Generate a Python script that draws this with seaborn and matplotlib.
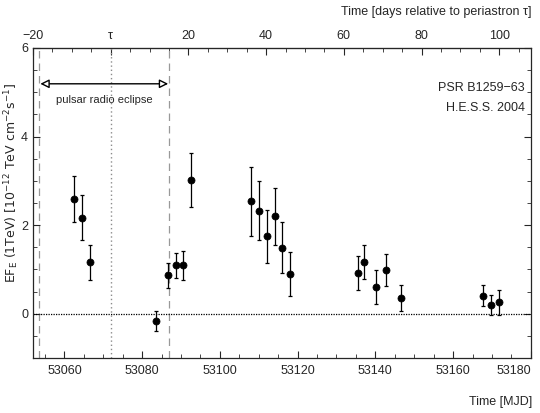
import matplotlib
matplotlib.use("Agg")
import matplotlib.pyplot as plt
from matplotlib.ticker import MultipleLocator, FixedLocator, FixedFormatter
import seaborn as sns
import pandas as pd

mjd = [53062.5, 53064.5, 53066.6, 53083.5, 53086.6, 53088.7, 53090.5, 53092.6,
       53108.1, 53110.1, 53112.1, 53114.1, 53116.1, 53118.1, 53135.6, 53137.2,
       53140.1, 53142.7, 53146.7, 53167.8, 53169.7, 53171.8]
flux = [2.59, 2.17, 1.16, -0.17, 0.87, 1.09, 1.09, 3.02,
        2.54, 2.33, 1.75, 2.20, 1.49, 0.90, 0.92, 1.17,
        0.60, 0.99, 0.36, 0.41, 0.20, 0.26]
flux_err = [0.52, 0.50, 0.39, 0.23, 0.28, 0.29, 0.33, 0.61,
            0.78, 0.66, 0.60, 0.64, 0.57, 0.50, 0.39, 0.39,
            0.38, 0.36, 0.30, 0.24, 0.23, 0.28]
tau = 53071.9
eclipse = [53053.5, 53087.0]
top_ticks = [-20, 0, 20, 40, 60, 80, 100]
top_labels = ["\u221220", "\u03c4", "20", "40", "60", "80", "100"]

df = pd.DataFrame({"mjd": mjd, "flux": flux, "err": flux_err})

sns.set_style("ticks")
fam = ["Liberation Sans", "DejaVu Sans"]
plt.rcParams["font.family"] = fam

fig = plt.figure(figsize=(5.4, 4.13), dpi=100)
ax = fig.add_axes([0.061, 0.133, 0.922, 0.751])

ax.axvline(tau, color="0.55", ls=(0, (1, 2)), lw=1.0, zorder=1)
for e in eclipse:
    ax.axvline(e, color="0.6", ls=(0, (6, 4)), lw=0.9, zorder=1)
ax.axhline(0, color="black", ls=(0, (1, 1)), lw=0.9, zorder=1)

ax.errorbar(df["mjd"], df["flux"], yerr=df["err"], fmt="none", ecolor="black",
            elinewidth=0.9, capsize=1.5, capthick=0.9, zorder=2)
sns.scatterplot(data=df, x="mjd", y="flux", ax=ax, color="black", s=26,
                marker="o", edgecolor="black", linewidth=0.5, zorder=3)

ax.set_xlim(53051.9, 53180)
ax.set_ylim(-1, 6)
ax.xaxis.set_major_locator(MultipleLocator(20))
ax.xaxis.set_minor_locator(MultipleLocator(5))
ax.yaxis.set_major_locator(MultipleLocator(2))
ax.yaxis.set_minor_locator(MultipleLocator(0.5))
ax.tick_params(which="both", direction="in", right=True, top=False, labelsize=9)
ax.tick_params(which="major", length=5, width=0.8)
ax.tick_params(which="minor", length=3, width=0.6)
ax.tick_params(axis="x", pad=5)
for s in ax.spines.values():
    s.set_linewidth(0.9)

sec = ax.secondary_xaxis("top", functions=(lambda x: x - tau, lambda d: d + tau))
sec.xaxis.set_major_locator(FixedLocator(top_ticks))
sec.xaxis.set_major_formatter(FixedFormatter(top_labels))
sec.xaxis.set_minor_locator(MultipleLocator(5))
sec.tick_params(which="both", direction="in", labelsize=9, pad=4)
sec.tick_params(which="major", length=5, width=0.8)
sec.tick_params(which="minor", length=3, width=0.6)

ax.set_xlabel("")
ax.set_ylabel("")
fig.text(0.985, 0.012, "Time [MJD]", ha="right", va="bottom", fontsize=9)
fig.text(0.985, 0.985, "Time [days relative to periastron \u03c4]", ha="right",
         va="top", fontsize=9)
fig.text(0.022, 0.557, r"EF$_\mathrm{E}$ (1TeV) [10$^{-12}$ TeV cm$^{-2}$s$^{-1}$]",
         rotation=90, ha="center", va="center", fontsize=9,
         family="DejaVu Sans")

ax.annotate("", xy=(eclipse[0] + 0.3, 5.19), xytext=(eclipse[1] - 0.3, 5.19),
            arrowprops=dict(arrowstyle="<|-|>", color="black", lw=1.0,
                            fc="white", mutation_scale=13, shrinkA=0, shrinkB=0))
ax.text((eclipse[0] + eclipse[1]) / 2, 4.83, "pulsar radio eclipse",
        ha="center", va="center", fontsize=8)
ax.text(53178.5, 5.1, "PSR B1259\u221263", ha="right", va="center", fontsize=9)
ax.text(53178.5, 4.65, "H.E.S.S. 2004", ha="right", va="center", fontsize=9)

fig.canvas.draw()
for lab in ax.get_xticklabels():
    if lab.get_text() == "53180":
        lab.set_horizontalalignment("right")
        lab.set_x(53180)

fig.savefig("out.png", dpi=100)
